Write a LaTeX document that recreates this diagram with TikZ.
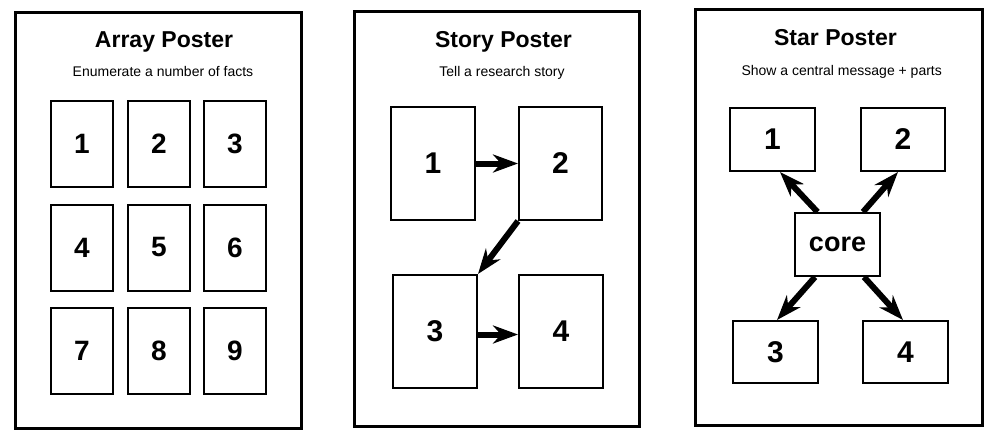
\documentclass[tikz,border=0pt]{standalone}
\usepackage{fontspec}
\setmainfont{Liberation Sans}
\usetikzlibrary{arrows.meta}
\begin{document}
\begin{tikzpicture}[x=1pt,y=-1pt,
  frame/.style={draw=black,line width=3pt},
  title/.style={anchor=base,inner sep=0pt,font=\fontsize{23}{27}\selectfont\bfseries},
  subtitle/.style={anchor=base,inner sep=0pt,font=\fontsize{14}{17}\selectfont},
  panel/.style={draw=black,line width=2pt,inner sep=0pt,font=\fontsize{28}{32}\selectfont\bfseries},
  bigpanel/.style={panel,font=\fontsize{30}{34}\selectfont\bfseries},
  arr/.style={line width=6pt,-{Stealth[length=25pt,width=18pt,inset=8pt]}}
]
\useasboundingbox (0,0) rectangle (999,444);
\fill[white] (0,0) rectangle (999,444);

% ---------- Array Poster ----------
\draw[frame] (15,12.5) rectangle (301.5,428);
\node[title] (at) at (164,48) {Array Poster};
\node[subtitle] (as) at (163,77) {Enumerate a number of facts};
\foreach \n/\x/\y in {1/82/144,2/159/144,3/235/144,4/82/247.5,5/159/247.5,6/235/247.5,7/82/351,8/159/351,9/235/351}
  \node[panel,minimum width=62pt,minimum height=86pt] (a\n) at (\x,\y) {\n};

% ---------- Story Poster ----------
\draw[frame] (354.5,11.5) rectangle (639.5,426.5);
\node[title] (st) at (503.5,48) {Story Poster};
\node[subtitle] (ss) at (502,77) {Tell a research story};
\node[bigpanel,minimum width=84pt,minimum height=113pt] (s1) at (433,163.5) {1};
\node[bigpanel,minimum width=83pt,minimum height=113pt] (s2) at (560.5,163.5) {2};
\node[bigpanel,minimum width=84pt,minimum height=113pt] (s3) at (435,331.5) {3};
\node[bigpanel,minimum width=84pt,minimum height=113pt] (s4) at (561,331.5) {4};
\draw[arr] (s1.east) -- (s2.west);
\draw[arr] (s2.south west) -- (s3.north east);
\draw[arr] ([yshift=-3pt]s3.east) -- ([yshift=-3pt]s4.west);

% ---------- Star Poster ----------
\draw[frame] (695.7,10) rectangle (982,425.7);
\node[title] (rt) at (835.5,45.7) {Star Poster};
\node[subtitle] (rs) at (841.7,75) {Show a central message + parts};
\node[bigpanel,minimum width=85pt,minimum height=63pt] (r1) at (772.5,139.5) {1};
\node[bigpanel,minimum width=84pt,minimum height=63pt] (r2) at (903,139.5) {2};
\node[panel,minimum width=85pt,minimum height=63pt,font=\fontsize{27}{31}\selectfont\bfseries] (core) at (837.5,244.5) {core};
\node[bigpanel,minimum width=85pt,minimum height=62pt] (r3) at (775.5,352) {3};
\node[bigpanel,minimum width=85pt,minimum height=62pt] (r4) at (905.5,352) {4};
\draw[arr] ([xshift=-20pt]core.north) -- ([xshift=7.5pt]r1.south);
\draw[arr] ([xshift=25.5pt]core.north) -- ([xshift=-5pt]r2.south);
\draw[arr] ([xshift=-22.5pt]core.south) -- ([xshift=1.5pt]r3.north);
\draw[arr] ([xshift=26.5pt]core.south) -- ([xshift=-2.5pt]r4.north);
\end{tikzpicture}
\end{document}
